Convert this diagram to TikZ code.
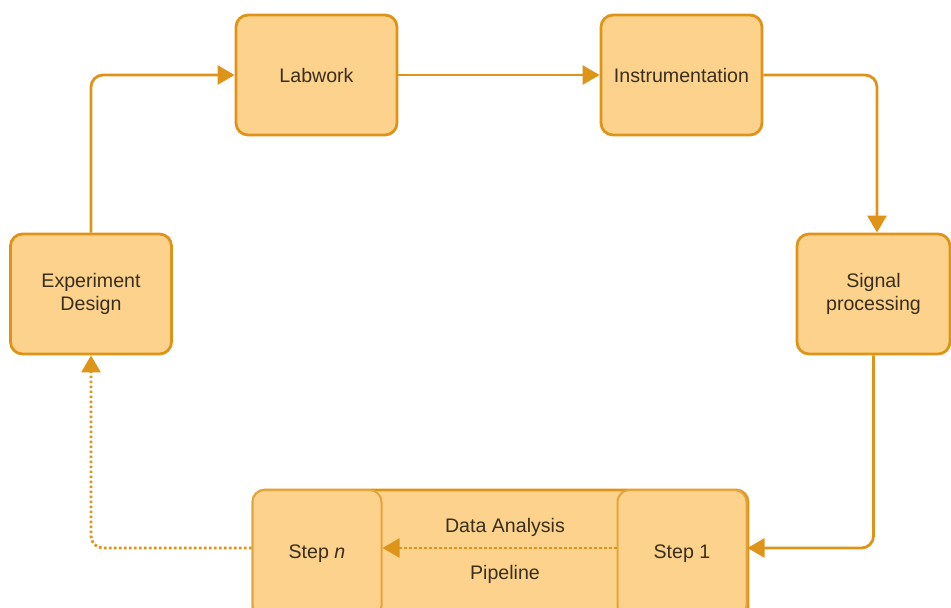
\documentclass[tikz,border=0pt]{standalone}
\usepackage{fontspec}
\setmainfont{Liberation Sans}
\usetikzlibrary{arrows.meta,positioning}
\definecolor{boxfill}{HTML}{FCD28C}
\definecolor{boxline}{HTML}{DE9418}
\definecolor{txt}{HTML}{3A2F1C}
\tikzset{
  proc/.style={draw=boxline, fill=boxfill, line width=2.8pt, rounded corners=12pt,
    minimum width=161pt, minimum height=120pt, inner sep=0pt,
    align=center, text=txt, font=\fontsize{19.6}{23}\selectfont},
  stepbox/.style={draw=boxline!85, fill=boxfill, line width=2pt, rounded corners=12pt,
    minimum width=129pt, minimum height=128pt, inner sep=0pt,
    text=txt, font=\fontsize{19.6}{23}\selectfont},
  flow/.style={draw=boxline, line width=2.8pt, rounded corners=12pt,
    -{Triangle[length=17pt,width=19pt]}},
  dots/.style={flow, dash pattern=on 2.6pt off 2.4pt},
  lbl/.style={text=txt, font=\fontsize{19.6}{23}\selectfont}
}
\begin{document}
\begin{tikzpicture}[x=1pt,y=-1pt]
\useasboundingbox (0,0) rectangle (951,608);
\clip (0,0) rectangle (951,608);
% main stages of the cycle
\node[proc] (lab) at (316.5,75) {Labwork};
\node[proc] (ins) at (681.5,75) {Instrumentation};
\node[proc] (exp) at (91,294) {Experiment\\Design};
\node[proc, minimum width=153pt] (sig) at (873.5,294) {Signal\\processing};
% analysis pipeline container with its first and last steps
\node[draw=boxline, fill=boxfill, line width=2.8pt, rounded corners=12pt,
  minimum width=495pt, minimum height=130pt, inner sep=0pt] (pipe) at (500.5,555) {};
\node[stepbox] (stn) at (317,554) {Step \textit{n}};
\node[stepbox] (st1) at (682,554) {Step 1};
\node[lbl] (da) at (505,527) {Data Analysis};
\node[lbl] (pl) at (505,574) {Pipeline};
\coordinate (rowy) at (0,548);
% connectors
\draw[flow] (lab.east) -- (ins.west);
\draw[flow] (ins.east) -| (sig.north -| 877,0);
\draw[flow] (sig.south) |- (st1.east |- rowy);
\draw[dots] (st1.west |- rowy) -- (stn.east |- rowy);
\draw[dots] (stn.west |- rowy) -| (exp.south);
\draw[flow] (exp.north) |- (lab.west);
\end{tikzpicture}
\end{document}
